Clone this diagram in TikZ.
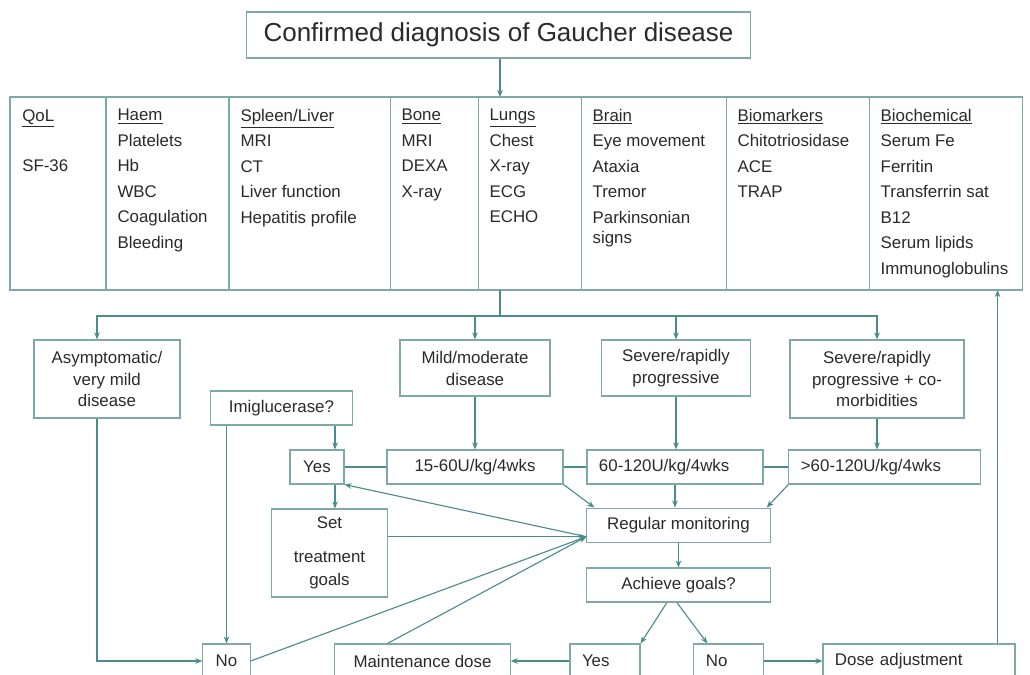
\documentclass[tikz,border=0pt]{standalone}
\usepackage{fontspec}
\setmainfont{Liberation Sans}
\usepackage{tikz}
\usetikzlibrary{positioning,arrows.meta}
\definecolor{lineC}{HTML}{4C8B8D}
\definecolor{boxC}{HTML}{7FA8AA}
\definecolor{txtC}{HTML}{2A2A2A}

\begin{document}
\begin{tikzpicture}[
  x=0.025cm, y=-0.025cm,
  font=\fontsize{12}{15.6}\selectfont, text=txtC,
  box/.style={draw=boxC, line width=0.8pt, align=center, inner sep=2pt, minimum height=0.85cm},
  lbox/.style={box, align=left, inner xsep=0.3cm},
  col/.style={draw=boxC, line width=0.8pt, minimum height=4.825cm, anchor=north west, inner sep=0pt, outer sep=0pt},
  coltxt/.style={anchor=north west, align=left, inner sep=0pt, font=\fontsize{12}{18.1}\selectfont},
  link/.style={draw=lineC, line width=0.8pt},
  arr/.style={link, -{Stealth[length=5pt,width=4pt]}},
]
\useasboundingbox (0,0) rectangle (1030,675);
\clip (0,0) rectangle (1030,675);

\node[box, font=\fontsize{18.5}{22}\selectfont, minimum width=12.58cm, minimum height=1.15cm] (title) at (498.5,35) {Confirmed diagnosis of Gaucher disease};

% assessment table
\node[col, minimum width=2.4cm] (qol) at (10,97) {};
\node[col, minimum width=3.075cm, right=0pt of qol.north east, anchor=north west] (haem) {};
\node[col, minimum width=4.025cm, right=0pt of haem.north east, anchor=north west] (spleen) {};
\node[col, minimum width=2.2cm, right=0pt of spleen.north east, anchor=north west] (bone) {};
\node[col, minimum width=2.575cm, right=0pt of bone.north east, anchor=north west] (lungs) {};
\node[col, minimum width=3.625cm, right=0pt of lungs.north east, anchor=north west] (brain) {};
\node[col, minimum width=3.575cm, right=0pt of brain.north east, anchor=north west] (biomark) {};
\node[col, minimum width=3.825cm, right=0pt of biomark.north east, anchor=north west] (biochem) {};

\node[coltxt] (qolT) at ([shift={(0.3cm,-0.3cm)}]qol.north west) {\underline{QoL}\\ \\SF-36};
\node[coltxt] (haemT) at ([shift={(0.28cm,-0.3cm)}]haem.north west) {\underline{Haem}\\Platelets\\Hb\\WBC\\Coagulation\\Bleeding};
\node[coltxt] (spleenT) at ([shift={(0.28cm,-0.3cm)}]spleen.north west) {\underline{Spleen/Liver}\\MRI\\CT\\Liver function\\Hepatitis profile};
\node[coltxt] (boneT) at ([shift={(0.28cm,-0.3cm)}]bone.north west) {\underline{Bone}\\MRI\\DEXA\\X-ray};
\node[coltxt] (lungsT) at ([shift={(0.28cm,-0.3cm)}]lungs.north west) {\underline{Lungs}\\Chest\\X-ray\\ECG\\ECHO};
\node[coltxt] (brainT) at ([shift={(0.28cm,-0.3cm)}]brain.north west) {\underline{Brain}\\Eye movement\\Ataxia\\Tremor\\Parkinsonian\\[-4pt]signs};
\node[coltxt] (biomarkT) at ([shift={(0.28cm,-0.3cm)}]biomark.north west) {\underline{Biomarkers}\\Chitotriosidase\\ACE\\TRAP};
\node[coltxt] (biochemT) at ([shift={(0.28cm,-0.3cm)}]biochem.north west) {\underline{Biochemical}\\Serum Fe\\Ferritin\\Transferrin sat\\B12\\Serum lipids\\Immunoglobulins};

% severity
\node[box, minimum width=3.65cm, minimum height=1.95cm] (asym) at (107,379) {Asymptomatic/\\very mild\\disease};
\node[box, minimum width=3.75cm, minimum height=1.4cm] (mild) at (475,368) {Mild/moderate\\disease};
\node[box, minimum width=3.73cm, minimum height=1.4cm] (sev) at (676,368) {Severe/rapidly\\progressive};
\node[box, minimum width=4.35cm, minimum height=1.95cm] (sevco) at (877,379) {Severe/rapidly\\progressive + co-\\morbidities};

% treatment
\node[box, minimum width=3.53cm] (imig) at (281.5,408) {Imiglucerase?};
\node[box, minimum width=1.35cm] (yes1) at (317,467) {Yes};
\node[box, minimum width=4.4cm] (d1) at (475,467) {15-60U/kg/4wks};
\node[lbox, text width=3.8cm] (d2) at (675,467) {60-120U/kg/4wks};
\node[lbox, text width=4.18cm] (d3) at (884.5,467) {>60-120U/kg/4wks};
\node[box, minimum width=4.58cm, minimum height=0.87cm] (rm) at (678.5,525.5) {Regular monitoring};
\node[box, minimum width=2.88cm, minimum height=2.2cm] (set) at (329.5,553) {Set\\[8pt]treatment\\[1pt]goals};
\node[box, minimum width=4.58cm] (ach) at (678.5,585) {Achieve goals?};

% outcome
\node[box, minimum width=1.18cm] (no1) at (226.5,661) {No};
\node[box, minimum width=4.38cm] (maint) at (422.5,661) {Maintenance dose};
\node[lbox, text width=1.15cm] (yes2) at (605,661) {Yes};
\node[lbox, text width=1.13cm] (no2) at (728.5,661) {No};
\node[lbox, text width=4.2cm] (dose) at (919,661) {Dose adjustment};

\coordinate (split) at (500,316);
\coordinate (hub) at ([yshift=-0.28cm]rm.west);
\coordinate (ylink) at ([xshift=0.45cm]yes1.north);
\coordinate (back) at ([xshift=-0.45cm]dose.north east);

\draw[arr] (title.south -| split) -- (lungs.north -| split);
\draw[link] (lungs.south -| split) -- (split);
\draw[arr] (split) -| ([xshift=-0.25cm]asym.north);
\draw[arr] (split) -| (mild.north);
\draw[arr] (split) -| (sev.north);
\draw[arr] (split) -| (sevco.north);

\draw[arr] (mild) -- (d1);
\draw[arr] (sev) -- (d2.north -| sev);
\draw[arr] (sevco) -- (d3.north -| sevco);
\draw[link] (yes1) -- (d1);
\draw[link] (d1) -- (d2);
\draw[link] (d2) -- (d3);

\draw[arr] (imig.south -| no1.north) -- (no1.north);
\draw[arr] (imig.south -| ylink) -- (ylink);
\draw[arr] (yes1.south -| ylink) -- (set.north -| ylink);

\draw[arr] (d1.south east) -- ([xshift=0.2cm]rm.north west);
\draw[arr] (d2.south) -- (d2.south |- rm.north);
\draw[arr] (d3.south west) -- ([xshift=-0.1cm]rm.north east);

\draw[arr] (hub) -- (yes1.south east);
\draw[arr] (set.east |- hub) -- (hub);
\draw[arr] (no1.east) -- (hub);
\draw[arr] ([xshift=1.33cm]maint.north west) -- (hub);

\draw[arr] (rm) -- (ach);
\draw[arr] ([xshift=-0.29cm]ach.south) -- (yes2.north east);
\draw[arr] ([xshift=-0.04cm]ach.south) -- ([xshift=0.35cm]no2.north west);
\draw[arr] (yes2) -- (maint);
\draw[arr] (no2) -- (dose);

\draw[arr] ([xshift=-0.25cm]asym.south) |- (no1.west);
\draw[arr] (back) -- (back |- biochem.south);
\end{tikzpicture}
\end{document}
